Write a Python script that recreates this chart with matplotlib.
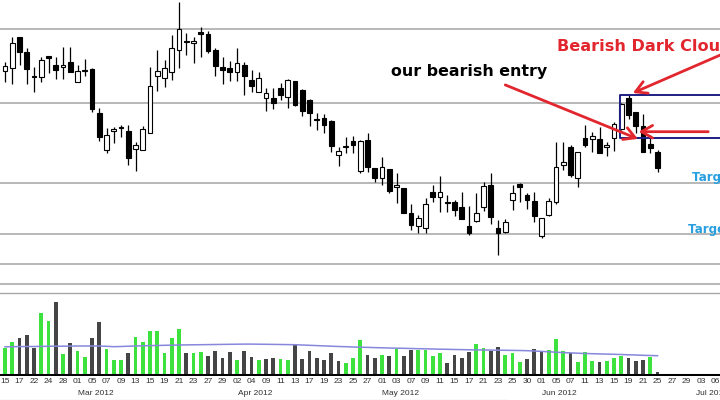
import numpy as np
import pandas as pd
import matplotlib
matplotlib.use("Agg")
import matplotlib.pyplot as plt
from matplotlib import font_manager, transforms
from matplotlib.lines import Line2D

# ---------------- data ----------------
dates = [
    "2012-02-15", "2012-02-16", "2012-02-17", "2012-02-21", "2012-02-22", "2012-02-23", "2012-02-24",
    "2012-02-27", "2012-02-28", "2012-02-29",
    "2012-03-01", "2012-03-02", "2012-03-05", "2012-03-06", "2012-03-07", "2012-03-08", "2012-03-09",
    "2012-03-12", "2012-03-13", "2012-03-14", "2012-03-15", "2012-03-16", "2012-03-19", "2012-03-20",
    "2012-03-21", "2012-03-22", "2012-03-23", "2012-03-26", "2012-03-27", "2012-03-28", "2012-03-29",
    "2012-03-30",
    "2012-04-02", "2012-04-03", "2012-04-04", "2012-04-05", "2012-04-09", "2012-04-10", "2012-04-11",
    "2012-04-12", "2012-04-13", "2012-04-16", "2012-04-17", "2012-04-18", "2012-04-19", "2012-04-20",
    "2012-04-23", "2012-04-24", "2012-04-25", "2012-04-26", "2012-04-27", "2012-04-30",
    "2012-05-01", "2012-05-02", "2012-05-03", "2012-05-04", "2012-05-07", "2012-05-08", "2012-05-09",
    "2012-05-10", "2012-05-11", "2012-05-14", "2012-05-15", "2012-05-16", "2012-05-17", "2012-05-18",
    "2012-05-21", "2012-05-22", "2012-05-23", "2012-05-24", "2012-05-25", "2012-05-29", "2012-05-30",
    "2012-05-31",
    "2012-06-01", "2012-06-04", "2012-06-05", "2012-06-06", "2012-06-07", "2012-06-08", "2012-06-11",
    "2012-06-12", "2012-06-13", "2012-06-14", "2012-06-15", "2012-06-18", "2012-06-19", "2012-06-20",
    "2012-06-21", "2012-06-22", "2012-06-25", "2012-06-26", "2012-06-27", "2012-06-28", "2012-06-29",
    "2012-07-02", "2012-07-03", "2012-07-05", "2012-07-06",
]

opens = [37.64, 37.72, 38.76, 38.28, 37.47, 37.42, 38.13, 37.83, 37.78, 37.94,
         37.28, 37.62, 37.69, 36.22, 35.00, 35.64, 35.73, 35.64, 35.02, 35.00,
         35.58, 37.47, 37.39, 37.61, 38.33, 38.63, 38.56, 38.94, 38.86, 38.33,
         37.78, 37.74, 37.61, 37.83, 37.33, 36.94, 36.72, 36.72, 37.06, 36.78,
         37.31, 37.00, 36.67, 36.04, 36.06, 35.98, 34.83, 35.09, 35.31, 34.31,
         35.33, 34.39, 34.06, 34.36, 33.78, 33.72, 32.89, 32.47, 32.39, 33.61,
         33.42, 33.28, 33.28, 33.11, 32.47, 32.64, 33.11, 33.83, 32.39, 32.28,
         33.33, 33.87, 33.50, 33.30, 32.13, 32.83, 33.28, 34.50, 35.11, 34.06,
         35.39, 35.36, 35.36, 35.11, 35.39, 35.69, 36.72, 36.28, 35.80, 35.19,
         34.94]
highs = [37.94, 38.76, 38.76, 38.39, 37.78, 38.11, 38.13, 38.09, 38.44, 38.44,
         37.83, 38.02, 37.72, 36.39, 35.72, 35.78, 35.83, 35.83, 35.28, 35.80,
         37.78, 38.33, 38.00, 38.83, 39.94, 38.91, 38.78, 39.11, 38.97, 38.39,
         38.09, 37.98, 38.39, 37.94, 37.67, 37.61, 37.06, 37.06, 37.22, 37.36,
         37.31, 37.02, 36.69, 36.22, 36.20, 36.00, 35.11, 35.44, 35.47, 35.33,
         35.58, 34.39, 34.78, 34.36, 34.24, 33.72, 33.20, 32.83, 33.39, 33.83,
         34.13, 33.50, 33.33, 33.61, 33.13, 33.58, 33.94, 34.24, 32.67, 32.69,
         33.83, 33.91, 33.58, 33.61, 32.72, 33.39, 35.28, 35.28, 35.17, 34.94,
         35.83, 35.61, 35.78, 35.28, 35.94, 36.56, 36.83, 36.28, 36.20, 35.50,
         35.00]
lows = [37.28, 37.20, 37.83, 37.20, 36.94, 37.28, 37.56, 37.36, 37.36, 37.61,
        37.28, 37.47, 36.28, 35.31, 34.91, 35.24, 35.44, 34.50, 34.31, 35.00,
        35.58, 36.98, 37.09, 37.33, 37.72, 38.17, 37.89, 38.11, 38.22, 37.47,
        37.20, 37.31, 37.31, 36.83, 36.94, 36.94, 36.31, 36.36, 36.67, 36.39,
        36.47, 36.13, 35.80, 35.67, 35.56, 34.94, 34.47, 34.91, 34.91, 34.22,
        34.28, 33.94, 33.83, 33.56, 33.24, 32.89, 32.33, 32.22, 32.22, 33.28,
        32.94, 32.94, 32.80, 32.69, 32.17, 32.61, 32.98, 32.53, 31.50, 32.22,
        33.00, 33.28, 33.02, 32.61, 32.06, 32.80, 33.20, 34.33, 34.11, 33.78,
        35.11, 34.94, 34.91, 34.80, 34.98, 35.67, 36.02, 35.56, 34.94, 34.91,
        34.28]
closes = [37.81, 38.56, 38.28, 37.70, 37.42, 38.00, 38.06, 37.67, 37.82, 37.61,
          37.64, 37.67, 36.36, 35.42, 35.50, 35.69, 35.78, 34.72, 35.17, 35.69,
          37.13, 37.63, 37.72, 38.39, 39.02, 38.59, 38.64, 38.87, 38.31, 37.81,
          37.67, 37.61, 37.89, 37.47, 37.13, 37.39, 36.89, 36.56, 36.83, 37.33,
          36.50, 36.31, 36.22, 36.00, 35.83, 35.13, 34.97, 35.13, 35.17, 35.30,
          34.44, 34.06, 34.44, 33.64, 33.83, 32.89, 32.50, 32.72, 33.20, 33.44,
          33.61, 33.23, 33.00, 32.69, 32.22, 32.89, 33.80, 32.78, 32.24, 32.61,
          33.58, 33.78, 33.33, 32.80, 32.72, 33.31, 34.44, 34.61, 34.17, 34.94,
          35.17, 35.47, 34.91, 35.16, 35.87, 36.53, 36.17, 35.80, 34.94, 35.06,
          34.39]

volume = [25.7, 31.7, 35.7, 39.0, 25.7, 60.7, 53.3, 71.7, 19.7, 30.7,
          23.3, 17.3, 36.3, 51.7, 25.0, 14.0, 14.0, 21.3, 37.3, 31.7,
          43.3, 43.3, 20.7, 35.7, 45.0, 20.7, 21.3, 22.0, 18.0, 23.3,
          15.7, 22.0, 14.0, 23.3, 17.3, 14.0, 14.7, 16.3, 14.7, 14.0,
          29.0, 14.7, 23.3, 15.7, 14.0, 21.3, 13.0, 10.7, 16.3, 34.0,
          19.0, 15.7, 19.0, 18.0, 24.7, 18.0, 24.0, 24.0, 24.0, 18.0,
          20.7, 10.7, 19.0, 15.7, 22.3, 29.7, 26.3, 23.0, 26.7, 19.0,
          21.3, 12.3, 14.7, 24.7, 23.0, 24.0, 35.0, 23.0, 20.7, 12.3,
          22.3, 13.0, 12.3, 13.3, 16.3, 18.3, 15.7, 13.0, 14.0, 17.3,
          2.3]
volume_ma = [27.2, 27.3, 27.4, 27.5, 27.5, 27.6, 27.7, 27.8, 27.8, 27.9,
             28.0, 28.0, 28.0, 28.0, 27.7, 27.3, 27.5, 27.8, 28.0, 28.2,
             28.4, 28.5, 28.7, 28.8, 29.0, 29.1, 29.2, 29.3, 29.4, 29.5,
             29.6, 29.7, 29.8, 29.9, 29.9, 29.8, 29.7, 29.6, 29.5, 29.4,
             29.3, 29.0, 28.7, 28.4, 28.1, 27.8, 27.5, 27.3, 27.0, 26.8,
             26.6, 26.4, 26.2, 26.0, 25.8, 25.7, 25.5, 25.3, 25.2, 25.0,
             24.8, 24.7, 24.5, 24.4, 24.2, 24.1, 24.0, 23.9, 23.8, 23.7,
             23.6, 23.5, 23.3, 23.0, 22.6, 22.2, 21.8, 21.4, 21.1, 20.8,
             20.5, 20.3, 20.1, 19.9, 19.7, 19.5, 19.2, 19.0, 18.7, 18.5,
             18.3]

levels = [39.02, 36.58, 33.91, 32.19, 31.19, 30.52]   # horizontal lines
pattern_top, pattern_bottom = 36.83, 35.39             # dark-cloud box

# ---------------- fonts ----------------
names = {f.name for f in font_manager.fontManager.ttflist}
tick_font = "Liberation Sans Narrow" if "Liberation Sans Narrow" in names else "Liberation Sans"

# ---------------- figure ----------------
W, H = 720, 400
fig = plt.figure(figsize=(W / 100, H / 100), dpi=100)
ax = fig.add_axes([0, 110 / H, 1, 290 / H])
axv = fig.add_axes([0, 24 / H, 1, 83 / H])

n = len(opens)
x = np.arange(n)
o = np.array(opens); h = np.array(highs); l = np.array(lows); c = np.array(closes)
xlim = (-5 / 7.25, 715 / 7.25)

# price panel
for lv in levels:
    ax.axhline(lv, color="#b2b2b2", lw=1.3, zorder=1)
ax.vlines(x, l, h, color="black", lw=0.9, zorder=2)
up = c >= o
body_bot = np.minimum(o, c)
body_h = np.maximum(np.abs(c - o), 0.03)
ax.bar(x, body_h, bottom=body_bot, width=0.68,
       color=np.where(up, "white", "black"), edgecolor="black", linewidth=0.8, zorder=3)

ax.set_xlim(*xlim)
ax.set_ylim(40 - 290 / 30, 40)
ax.set_axis_off()

# dark cloud box
navy = "#1f1f82"
box_left = 84.8
ax.plot([xlim[1] + 2, box_left, box_left, xlim[1] + 2],
        [pattern_top, pattern_top, pattern_bottom, pattern_bottom],
        color=navy, lw=1.4, zorder=4, clip_on=True)

red = "#e2262e"
aprops = dict(arrowstyle="->,head_length=0.8,head_width=0.45", color=red, lw=2,
              shrinkA=0, shrinkB=0)
ax.annotate("", xy=(87.3, 35.37), xytext=(69.0, 37.17), arrowprops=aprops, zorder=5)
ax.annotate("", xy=(86.6, 36.90), xytext=(98.7, 38.17), arrowprops=aprops, zorder=5,
            annotation_clip=False)
ax.annotate("", xy=(87.4, 35.61), xytext=(97.0, 35.61), arrowprops=aprops, zorder=5)

ax.text(76.14, 38.30, "Bearish Dark Cloud", color=red, fontsize=11.6,
        fontweight="bold", family="DejaVu Sans", ha="left", va="baseline", zorder=6)
ax.text(53.2, 37.47, "our bearish entry", color="black", fontsize=11.4,
        fontweight="bold", family="DejaVu Sans", ha="left", va="baseline", zorder=6)
ax.text(94.76, 33.97, "Target 1", color="#2a9fe0", fontsize=8.6,
        fontweight="bold", family="DejaVu Sans", ha="left", va="baseline", zorder=6)
ax.text(94.25, 32.22, "Target 2", color="#2a9fe0", fontsize=8.6,
        fontweight="bold", family="DejaVu Sans", ha="left", va="baseline", zorder=6)

# volume panel
prev = np.concatenate([[c[0] - 1], c[:-1]])
vol_colors = np.where(c >= prev, "#3ee23e", "#454545")
axv.bar(x, volume, width=0.55, color=vol_colors, zorder=2)
axv.plot(x, volume_ma, color="#8787dc", lw=1.1, zorder=3)
axv.axhline(-1, color="black", lw=2.2, zorder=4)
axv.set_xlim(*xlim)
axv.set_ylim(-2, 81)
for s in ["left", "right", "bottom"]:
    axv.spines[s].set_visible(False)
axv.spines["top"].set_color("#a8a8a8")
axv.spines["top"].set_linewidth(1.0)
axv.set_yticks([])

dts = pd.to_datetime(dates)
tick_idx = np.arange(0, len(dates), 2)
axv.set_xticks(tick_idx)
axv.set_xticklabels([f"{dts[i].day:02d}" for i in tick_idx], fontsize=6.0,
                    family=tick_font, color="#303030")
axv.tick_params(axis="x", length=0, pad=1.5)

trans = transforms.blended_transform_factory(axv.transData, fig.transFigure)
for i in range(1, len(dates)):
    if dts[i].month != dts[i - 1].month:
        axv.text(i + 2.5, 1 - 393.5 / H, dts[i].strftime("%b %Y"), transform=trans,
                 fontsize=6.0, family=tick_font, color="#303030",
                 ha="center", va="center", clip_on=False)

fig.add_artist(Line2D([0, 507 / W], [1 - 399.5 / H] * 2, color="#9a9a9a", lw=0.8))

fig.savefig("out.png", dpi=100)
